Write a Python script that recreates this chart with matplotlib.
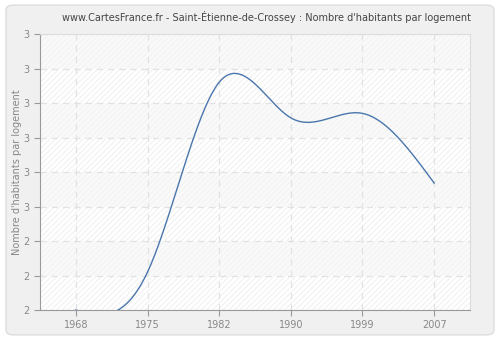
import numpy as np
import matplotlib
matplotlib.use('Agg')
import matplotlib.pyplot as plt
from matplotlib.patches import FancyBboxPatch

#---- Data -------------------------------------------------------------------#

years = ['1968', '1975', '1982', '1990', '1999', '2007']
values = [2.20, 2.31, 2.86, 2.757, 2.77, 2.568]
y_ticks = [2.2, 2.3, 2.4, 2.5, 2.6, 2.7, 2.8, 2.9, 3.0]
y_labels = ['2', '2', '2', '3', '3', '3', '3', '3', '3']

title = "www.CartesFrance.fr - Saint-Étienne-de-Crossey : Nombre d'habitants par logement"
ylabel = "Nombre d'habitants par logement"

#---- Natural cubic spline for the smooth line -------------------------------#

def natural_spline(x, y, n=400):
    x = np.asarray(x, float)
    y = np.asarray(y, float)
    k = len(x)
    h = np.diff(x)
    A = np.zeros((k, k))
    b = np.zeros(k)
    A[0, 0] = A[-1, -1] = 1
    for i in range(1, k - 1):
        A[i, i - 1] = h[i - 1]
        A[i, i] = 2 * (h[i - 1] + h[i])
        A[i, i + 1] = h[i]
        b[i] = 6 * ((y[i + 1] - y[i]) / h[i] - (y[i] - y[i - 1]) / h[i - 1])
    M = np.linalg.solve(A, b)
    xs = np.linspace(x[0], x[-1], n)
    ys = np.empty_like(xs)
    for j, t in enumerate(xs):
        i = min(np.searchsorted(x, t, side='right') - 1, k - 2)
        a = x[i + 1] - t
        c = t - x[i]
        ys[j] = (M[i] * a**3 / (6 * h[i]) + M[i + 1] * c**3 / (6 * h[i])
                 + (y[i] - M[i] * h[i]**2 / 6) * a / h[i]
                 + (y[i + 1] - M[i + 1] * h[i]**2 / 6) * c / h[i])
    return xs, ys

idx = np.arange(len(years))
xs, ys = natural_spline(idx, values)

#---- Plotting ---------------------------------------------------------------#

fig = plt.figure(figsize=(5, 3.4), dpi=100)
fig.patch.set_facecolor('white')
fig.patches.append(FancyBboxPatch((0.012, 0.015), 0.976, 0.97,
                                  boxstyle='round,pad=0,rounding_size=0.015',
                                  transform=fig.transFigure, facecolor='#f0f0f0',
                                  edgecolor='#dddddd', linewidth=1, zorder=-5))

ax = fig.add_axes([0.08, 0.088, 0.86, 0.812])
ax.set_facecolor('white')
ax.set_xlim(-0.5, 5.5)
ax.set_ylim(2.2, 3.0)

# alternating background bands
plt.rcParams['hatch.linewidth'] = 0.6
for i in range(len(y_ticks) - 1):
    if i % 2 == 0:
        ax.axhspan(y_ticks[i], y_ticks[i + 1], facecolor='white', edgecolor='#ededed',
                   hatch='//////', linewidth=0, zorder=0)
    else:
        ax.axhspan(y_ticks[i], y_ticks[i + 1], facecolor='#f9f9f9', edgecolor='#f2f2f2',
                   hatch='//////', linewidth=0, zorder=0)

ax.plot(xs, ys, color='#4a76ad', linewidth=1, zorder=3, clip_on=True)

ax.set_xticks(idx)
ax.set_xticklabels(years)
ax.set_yticks(y_ticks)
ax.set_yticklabels(y_labels)
ax.grid(True, color='#e2e2e2', linestyle=(0, (5, 4)), linewidth=0.9, zorder=1)
ax.set_axisbelow(True)

for side in ['top', 'right']:
    ax.spines[side].set_color('#dddddd')
for side in ['left', 'bottom']:
    ax.spines[side].set_color('#999999')
ax.tick_params(colors='#999999', labelcolor='#888888', labelsize=7, length=4, width=0.8)

ax.set_ylabel(ylabel, fontsize=7, color='#888888', labelpad=1)
fig.text(0.532, 0.951, title, ha='center', va='center', fontsize=7, color='#444444')

plt.savefig('out.png', dpi=100, facecolor=fig.get_facecolor())
